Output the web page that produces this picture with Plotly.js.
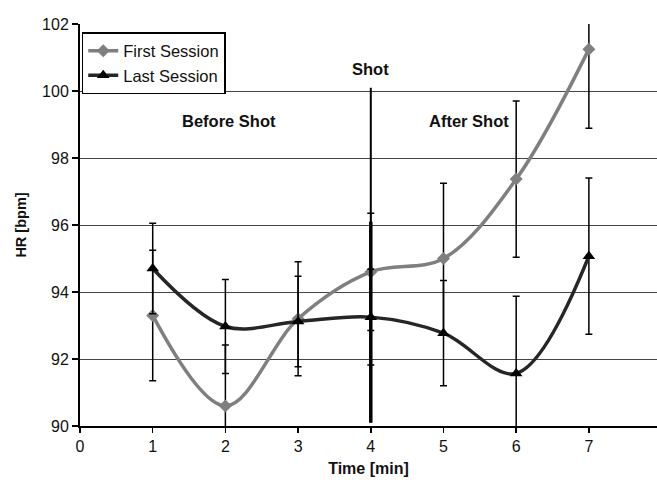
<!DOCTYPE html>
<html>
<head>
<meta charset="utf-8">
<script src="https://cdn.plot.ly/plotly-3.0.1.min.js"></script>
<style>html,body{margin:0;padding:0;background:#fff;}#chart{width:657px;height:490px;}</style>
</head>
<body>
<div id="chart"></div>
<script>
// ---- data ----
const timeMin = [1, 2, 3, 4, 5, 6, 7];
const firstSession = [93.3, 90.6, 93.2, 94.6, 95.0, 97.37, 101.25];
const firstSessionErr = [1.95, 1.82, 1.7, 1.75, 2.25, 2.33, 2.36];
const lastSession = [94.7, 92.97, 93.12, 93.25, 92.77, 91.57, 95.07];
const lastSessionErr = [1.35, 1.4, 1.35, 1.43, 1.57, 2.3, 2.33];
const seriesNames = ["First Session", "Last Session"];
const xTicks = [0, 1, 2, 3, 4, 5, 6, 7, 8];
const yTicks = [90, 92, 94, 96, 98, 100, 102];
const phaseLabels = ["Before Shot", "Shot", "After Shot"];
const phaseX = [2.05, 4, 5.35];
const phaseY = [99.1, 100.65, 99.1];
const shotTime = 4;
const shotRange = [90.1, 100.1];
const shotThickRange = [90.1, 96.1];

const font = "Liberation Sans, Arial, sans-serif";

const errStyle = {type: "data", visible: true, color: "#000", thickness: 1.5, width: 3.5};

const traces = [
  {
    x: timeMin, y: firstSession, name: seriesNames[0], type: "scatter", mode: "lines+markers",
    line: {color: "#7f7f7f", width: 3.5, shape: "spline", smoothing: 1},
    marker: {symbol: "diamond", size: 10, color: "#7f7f7f"},
    error_y: Object.assign({array: firstSessionErr}, errStyle)
  },
  {
    x: timeMin, y: lastSession, name: seriesNames[1], type: "scatter", mode: "lines+markers",
    line: {color: "#262626", width: 3.5, shape: "spline", smoothing: 1},
    marker: {symbol: "triangle-up", size: 11, color: "#000"},
    error_y: Object.assign({array: lastSessionErr}, errStyle)
  }
];

const annotations = phaseLabels.map((t, i) => ({
  x: phaseX[i], y: phaseY[i], xref: "x", yref: "y", text: "<b>" + t + "</b>",
  showarrow: false, font: {family: font, size: 16.5, color: "#111"}
}));

const layout = {
  width: 657, height: 490,
  margin: {l: 80, r: 0, t: 24, b: 64},
  paper_bgcolor: "#fff", plot_bgcolor: "#fff",
  font: {family: font, color: "#111"},
  showlegend: true,
  legend: {
    x: 0.003, y: 0.98, xanchor: "left", yanchor: "top",
    bgcolor: "#fff", bordercolor: "#000", borderwidth: 1.5,
    font: {family: font, size: 16.5, color: "#111"},
    itemwidth: 30, tracegroupgap: 0
  },
  xaxis: {
    range: [0, 7.937], tickvals: xTicks, ticktext: xTicks.map(String),
    showgrid: false, zeroline: false,
    showline: true, linecolor: "#000", linewidth: 2,
    ticks: "outside", ticklen: 5, tickcolor: "#000", tickwidth: 1.5,
    tickfont: {family: font, size: 16, color: "#111"},
    title: {text: "<b>Time [min]</b>", font: {family: font, size: 16, color: "#111"}, standoff: 9}
  },
  yaxis: {
    range: [90, 102], tickvals: yTicks, ticktext: yTicks.map(String),
    showgrid: true, gridcolor: "#444", gridwidth: 1, zeroline: false,
    showline: true, linecolor: "#000", linewidth: 2,
    ticks: "outside", ticklen: 6, tickcolor: "#000", tickwidth: 1.5,
    tickfont: {family: font, size: 16, color: "#111"},
    title: {text: "<b>HR [bpm]</b>", font: {family: font, size: 14.5, color: "#111"}, standoff: 12}
  },
  shapes: [
    {type: "line", xref: "x", yref: "y", x0: shotTime, x1: shotTime, y0: shotRange[0], y1: shotRange[1],
     line: {color: "#000", width: 2}, layer: "above"},
    {type: "line", xref: "x", yref: "y", x0: shotTime, x1: shotTime, y0: shotThickRange[0], y1: shotThickRange[1],
     line: {color: "#000", width: 3.5}, layer: "above"}
  ],
  annotations: annotations
};

Plotly.newPlot("chart", traces, layout, {staticPlot: true, displayModeBar: false});
</script>
</body>
</html>
